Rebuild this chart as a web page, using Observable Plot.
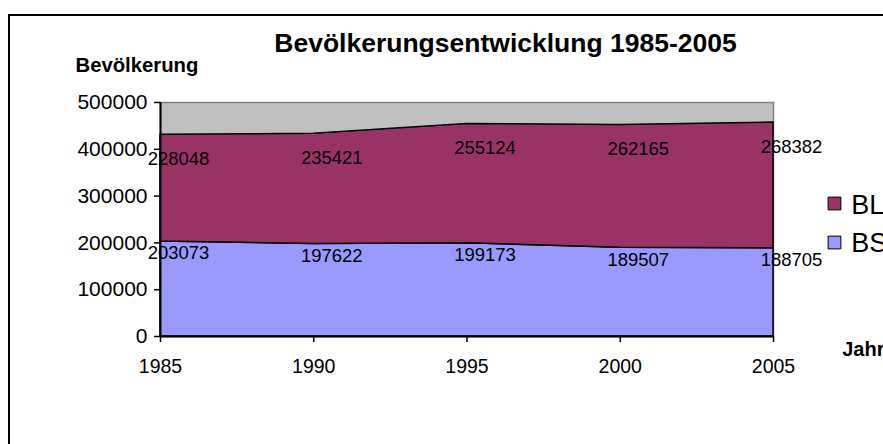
<!DOCTYPE html>
<html>
<head>
<meta charset="utf-8">
<script src="https://cdn.jsdelivr.net/npm/d3@7"></script>
<script src="https://cdn.jsdelivr.net/npm/@observablehq/plot@0.6"></script>
<style>
  html, body { margin: 0; padding: 0; background: #fff; overflow: hidden; }
  #wrap { position: relative; width: 883px; height: 444px; overflow: hidden; }
  #border { position: absolute; left: 8px; top: 14px; width: 1000px; height: 1000px; border: 2px solid #000; pointer-events: none; }
  #wrap svg { position: absolute; left: 0; top: 0; }
</style>
</head>
<body>
<div id="wrap"><div id="border"></div></div>
<script>
const years = [1985, 1990, 1995, 2000, 2005];
const bsValues = [203073, 197622, 199173, 189507, 188705];
const blValues = [228048, 235421, 255124, 262165, 268382];
const seriesNames = ["BL", "BS"];
const seriesColors = ["#993366", "#9999FF"];
const yTicks = [0, 100000, 200000, 300000, 400000, 500000];
const titleText = "Bevölkerungsentwicklung 1985-2005";
const yTitle = "Bevölkerung";
const xTitle = "Jahr";

const rows = years.flatMap((year, i) => [
  {year, series: "BS", value: bsValues[i]},
  {year, series: "BL", value: blValues[i]}
]);
const totals = years.map((_, i) => bsValues[i] + blValues[i]);

const chart = Plot.plot({
  width: 883,
  height: 444,
  marginLeft: 160,
  marginRight: 110,
  marginTop: 102,
  marginBottom: 108,
  style: {fontFamily: "'Liberation Sans', Arial, sans-serif", background: "transparent", color: "#000"},
  x: {domain: [1985, 2005], label: null},
  y: {domain: [0, 500000], label: null},
  color: {domain: seriesNames, range: seriesColors},
  marks: [
    Plot.frame({fill: "#C0C0C0", stroke: "#808080", strokeWidth: 1.5}),
    Plot.areaY(rows, {x: "year", y: "value", z: "series", fill: "series", stroke: "#000", strokeWidth: 1.5}),
    Plot.ruleX([1985], {stroke: "#000", strokeWidth: 2}),
    Plot.ruleY([0], {stroke: "#000", strokeWidth: 2}),
    Plot.axisY({ticks: yTicks, tickFormat: d => String(d), tickSize: 6, tickPadding: 7, fontSize: 21, stroke: "#000", fill: "#000", strokeWidth: 1.5}),
    Plot.axisX({ticks: years, tickFormat: d => String(d), tickSize: 6, tickPadding: 17, fontSize: 19.5, stroke: "#000", fill: "#000", strokeWidth: 1.5}),
    Plot.text(years, {x: years, y: bsValues, text: bsValues.map(String), dx: 18, dy: 12, fontSize: 18.5, fill: "#000"}),
    Plot.text(years, {x: years, y: totals, text: blValues.map(String), dx: 18, dy: 24, fontSize: 18.5, fill: "#000"}),
    Plot.text([titleText], {frameAnchor: "top-left", text: d => d, dx: 345, dy: -50.3, textAnchor: "middle", lineAnchor: "bottom", fontSize: 26.5, fontWeight: "bold", fill: "#000"}),
    Plot.text([yTitle], {frameAnchor: "top-left", text: d => d, dx: -85, dy: -30.3, textAnchor: "start", lineAnchor: "bottom", fontSize: 20.3, fontWeight: "bold", fill: "#000"}),
    Plot.text([xTitle], {frameAnchor: "bottom-right", text: d => d, dx: 68.7, dy: 19, textAnchor: "start", lineAnchor: "bottom", fontSize: 20, fontWeight: "bold", fill: "#000"}),
    Plot.dot([seriesNames[0]], {frameAnchor: "top-right", dx: 61, dy: 101, symbol: "square", r: 7.2, fill: d => d, stroke: "#000", strokeWidth: 1}),
    Plot.dot([seriesNames[1]], {frameAnchor: "top-right", dx: 61, dy: 140, symbol: "square", r: 7.2, fill: d => d, stroke: "#000", strokeWidth: 1}),
    Plot.text([seriesNames[0]], {frameAnchor: "top-right", text: d => d, dx: 77.7, dy: 111.3, textAnchor: "start", lineAnchor: "bottom", fontSize: 27, fill: "#000"}),
    Plot.text([seriesNames[1]], {frameAnchor: "top-right", text: d => d, dx: 77.7, dy: 149, textAnchor: "start", lineAnchor: "bottom", fontSize: 27, fill: "#000"})
  ]
});
document.getElementById("wrap").appendChild(chart);
</script>
</body>
</html>
